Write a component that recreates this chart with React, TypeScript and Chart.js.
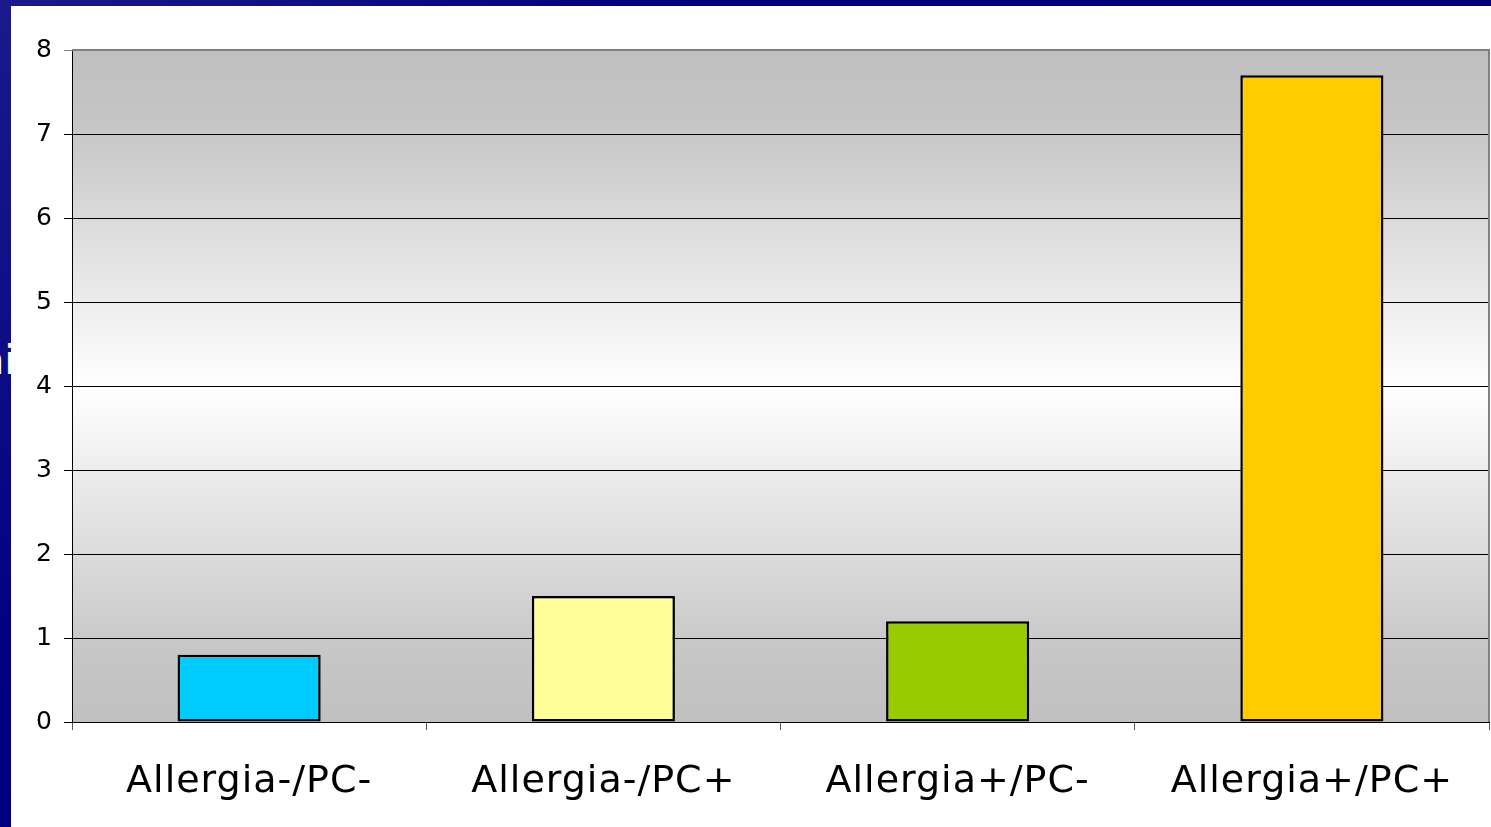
import React, { useEffect, useRef } from "react";
import { Chart, registerables } from "chart.js";

Chart.register(...registerables);

const categories = ["Allergia-/PC-", "Allergia-/PC+", "Allergia+/PC-", "Allergia+/PC+"];
const values = [0.8, 1.5, 1.2, 7.7];
const barColors = ["#00ccff", "#ffff99", "#99cc00", "#ffcc00"];
const yTicks = [0, 1, 2, 3, 4, 5, 6, 7, 8];

const W = 1491;
const H = 827;
const FONT = "'DejaVu Sans', Verdana, sans-serif";

// Gray-white-gray wash behind the plot, plus the gray frame on top/right
const plotBackground = {
  id: "plotBackground",
  beforeDraw(chart: any) {
    const { ctx, chartArea } = chart;
    const { left, top, right, bottom } = chartArea;
    const g = ctx.createLinearGradient(0, top, 0, bottom);
    g.addColorStop(0, "#c0c0c0");
    g.addColorStop(0.1, "#c4c4c4");
    g.addColorStop(0.5, "#ffffff");
    g.addColorStop(0.9, "#c6c6c6");
    g.addColorStop(1, "#c0c0c0");
    ctx.save();
    ctx.fillStyle = g;
    ctx.fillRect(left, top, right - left, bottom - top);
    ctx.restore();
    // slightly looser lettering for the axis labels
    ctx.letterSpacing = "1px";
  },
  afterDraw(chart: any) {
    const { ctx, chartArea } = chart;
    const { left, top, right, bottom } = chartArea;
    ctx.save();
    ctx.strokeStyle = "#808080";
    ctx.lineWidth = 2;
    ctx.beginPath();
    ctx.moveTo(left, top);
    ctx.lineTo(right, top);
    ctx.lineTo(right, bottom);
    ctx.stroke();
    ctx.restore();
  },
};

export default function App() {
  const ref = useRef<HTMLCanvasElement | null>(null);

  useEffect(() => {
    if (!ref.current) return;
    const chart = new Chart(ref.current, {
      type: "bar",
      data: {
        labels: categories,
        datasets: [
          {
            data: values,
            backgroundColor: barColors,
            borderColor: "#000000",
            borderWidth: 2.5,
            borderSkipped: false,
            barPercentage: 1,
            categoryPercentage: 0.404,
          },
        ],
      },
      options: {
        responsive: false,
        animation: false,
        devicePixelRatio: 1,
        layout: { padding: { left: 0, top: 50, right: 2, bottom: 0 } },
        plugins: {
          legend: { display: false },
          tooltip: { enabled: false },
        },
        scales: {
          x: {
            offset: true,
            grid: {
              offset: true,
              drawOnChartArea: false,
              drawTicks: true,
              tickLength: 8,
              color: "#555555",
            },
            border: { display: true, color: "#000000", width: 1 },
            ticks: {
              color: "#000000",
              font: { family: FONT, size: 38 },
              padding: 29,
              maxRotation: 0,
            },
            afterFit(scale: any) {
              scale.height = H - 722;
            },
          },
          y: {
            min: yTicks[0],
            max: yTicks[yTicks.length - 1],
            afterBuildTicks(scale: any) {
              scale.ticks = yTicks.map((v) => ({ value: v }));
            },
            grid: {
              color: (c: any) => (c.tick && c.tick.value === 8 ? "#808080" : "#000000"),
              lineWidth: 1,
              tickLength: 8,
            },
            border: { display: true, color: "#000000", width: 1 },
            ticks: {
              color: "#000000",
              font: { family: FONT, size: 25 },
              padding: 11,
            },
            afterFit(scale: any) {
              scale.width = 72;
            },
          },
        },
      },
      plugins: [plotBackground],
    });
    return () => chart.destroy();
  }, []);

  return (
    <div
      style={{
        position: "fixed",
        left: 0,
        top: 0,
        width: W,
        height: H,
        background: "linear-gradient(135deg, #1a1a8c 0%, #000080 30%, #000078 100%)",
        overflow: "hidden",
      }}
    >
      <div
        style={{
          position: "absolute",
          left: -21,
          top: 340,
          fontFamily: FONT,
          fontSize: 40,
          lineHeight: "40px",
          color: "#ffffff",
          whiteSpace: "nowrap",
        }}
      >
        ni
      </div>
      <div
        style={{
          position: "absolute",
          left: 11,
          top: 6,
          right: 0,
          bottom: 0,
          background: "#ffffff",
        }}
      />
      <canvas
        ref={ref}
        width={W}
        height={H}
        style={{ position: "absolute", left: 0, top: 0, width: W, height: H }}
      />
    </div>
  );
}
